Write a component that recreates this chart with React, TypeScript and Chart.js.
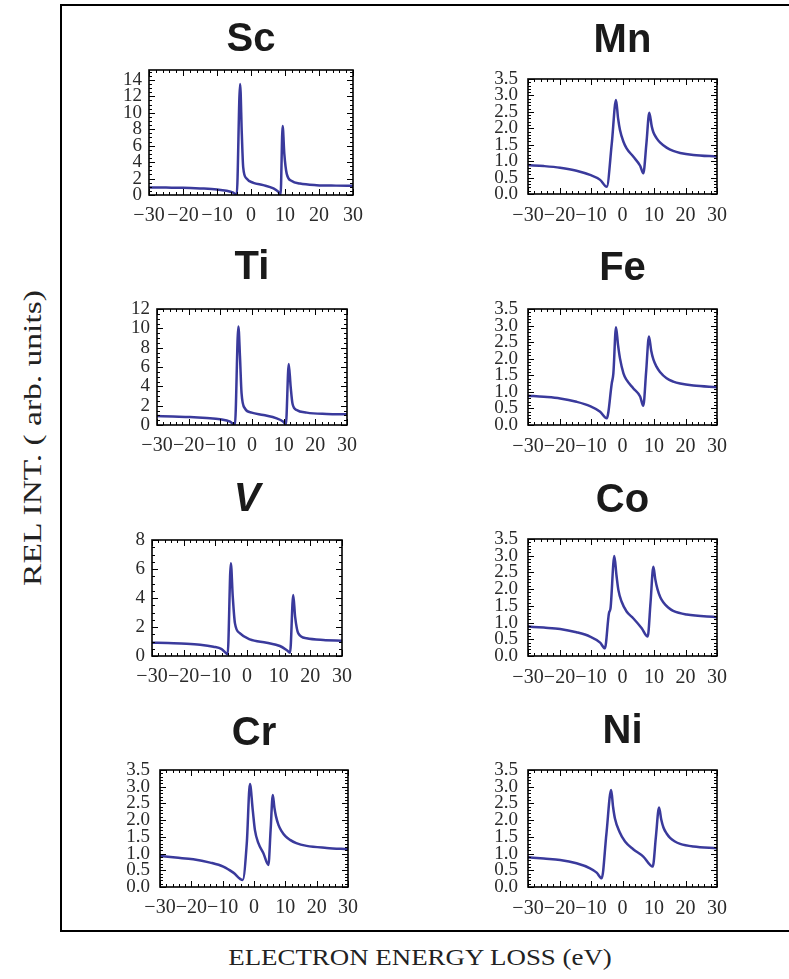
import React, { useEffect, useRef } from 'react';
import { Chart, registerables } from 'chart.js';

Chart.register(...registerables);

// ---------- data ----------
const xTickValues = [-30, -20, -10, 0, 10, 20, 30];
const yTicksSc = [0, 2, 4, 6, 8, 10, 12, 14];
const yTicksTi = [0, 2, 4, 6, 8, 10, 12];
const yTicksV = [0, 2, 4, 6, 8];
const yTicksDec = [0, 0.5, 1, 1.5, 2, 2.5, 3, 3.5];

const scX = [-30, -25, -20, -15, -10, -7.2, -5.2, -4.2, -3.2, -2.7, -2.3, -1.3, 0.7, 3.6, 6.6, 8.0, 8.7, 9.3, 9.8, 10.5, 12.0, 14.4, 19.3, 25, 30];
const scY = [0.92, 0.9, 0.88, 0.8, 0.68, 0.52, 0.28, 0.03, 13.5, 7.4, 3.4, 2.0, 1.48, 1.2, 0.8, 0.4, 0.03, 8.4, 5.0, 2.6, 1.7, 1.4, 1.2, 1.14, 1.12];

const tiX = [-30, -25, -19.6, -14.3, -10.1, -6.9, -5.4, -4.3, -3.8, -3.3, -2.2, -0.1, 3.6, 7.8, 9.9, 10.7, 11.6, 12.2, 12.8, 14.1, 17.3, 23.6, 30];
const tiY = [0.93, 0.88, 0.83, 0.72, 0.59, 0.34, 0.0, 10.2, 7.1, 3.3, 1.7, 1.28, 1.03, 0.69, 0.34, 0.07, 6.3, 4.0, 2.2, 1.55, 1.28, 1.14, 1.1];

const vX = [-30, -25, -19.1, -14.8, -10.6, -8.0, -6.1, -5.1, -4.5, -3.8, -2.2, 0.9, 6.2, 10.4, 12.5, 13.6, 14.6, 15.2, 16.2, 18.8, 24.1, 30];
const vY = [0.92, 0.89, 0.85, 0.78, 0.64, 0.48, 0.14, 6.4, 4.1, 2.25, 1.56, 1.15, 0.92, 0.69, 0.41, 0.23, 4.2, 2.7, 1.56, 1.22, 1.1, 1.06];

const crX = [-30, -25, -19.4, -14.0, -9.8, -6.6, -3.6, -2.3, -1.3, -0.4, 0.3, 1.4, 3.0, 4.6, 5.3, 6.0, 6.5, 7.0, 7.8, 8.8, 10.0, 11.5, 13.5, 16.8, 23.2, 30];
const crY = [0.93, 0.88, 0.83, 0.73, 0.61, 0.43, 0.21, 1.31, 3.08, 2.3, 1.7, 1.31, 1.01, 0.66, 1.7, 2.75, 2.38, 2.12, 1.86, 1.67, 1.52, 1.41, 1.31, 1.23, 1.17, 1.13];

const mnX = [-30, -25, -19.8, -14.6, -10.3, -7.1, -5.0, -3.4, -2.06, -1.4, -0.8, 0.3, 1.3, 3.4, 5.6, 6.6, 7.6, 8.5, 9.3, 9.8, 10.8, 11.9, 14.0, 16.1, 18.3, 22.5, 30];
const mnY = [0.88, 0.85, 0.8, 0.71, 0.58, 0.43, 0.22, 1.54, 2.86, 2.3, 1.95, 1.59, 1.39, 1.14, 0.86, 0.63, 1.55, 2.47, 2.05, 1.88, 1.7, 1.57, 1.41, 1.31, 1.25, 1.19, 1.14];

const feX = [-30, -25, -19.8, -14.6, -10.3, -7.1, -5.0, -3.4, -2.9, -2.06, -1.4, -0.8, 0.3, 1.3, 3.4, 5.6, 6.6, 7.5, 8.4, 9.1, 9.8, 10.8, 11.9, 14.0, 16.1, 18.3, 22.5, 30];
const feY = [0.885, 0.85, 0.8, 0.7, 0.57, 0.4, 0.2, 1.26, 1.56, 2.95, 2.4, 2.01, 1.56, 1.36, 1.11, 0.86, 0.58, 1.6, 2.67, 2.25, 1.98, 1.76, 1.6, 1.41, 1.31, 1.25, 1.19, 1.14];

const coX = [-30, -25, -19.8, -14.6, -10.3, -7.1, -5.6, -4.3, -3.8, -2.6, -1.9, -1.3, -0.3, 1.3, 3.4, 6.1, 8.0, 8.9, 9.8, 10.4, 11.1, 12.0, 13.0, 14.5, 16.1, 20.4, 30];
const coY = [0.88, 0.85, 0.81, 0.71, 0.58, 0.4, 0.23, 1.28, 1.43, 2.99, 2.4, 1.97, 1.63, 1.33, 1.13, 0.83, 0.58, 1.6, 2.67, 2.3, 2.0, 1.76, 1.6, 1.45, 1.35, 1.24, 1.16];

const niX = [-30, -25, -19.8, -14.6, -10.3, -8.2, -6.6, -5.1, -3.6, -3.0, -2.4, -1.0, 0.8, 3.4, 6.6, 9.6, 10.6, 11.6, 12.3, 13.0, 14.0, 15.1, 16.5, 18.3, 22.5, 30];
const niY = [0.89, 0.85, 0.81, 0.71, 0.56, 0.43, 0.26, 1.6, 2.9, 2.4, 2.05, 1.66, 1.36, 1.13, 0.91, 0.61, 1.5, 2.38, 2.02, 1.78, 1.6, 1.47, 1.37, 1.29, 1.21, 1.16];

// ---------- panel table (data refs + layout) ----------
type Panel = {
  name: string; italic?: boolean; xs: number[]; ys: number[];
  yMax: number; yTicks: number[]; yMinor: number; dec: boolean;
  plot: [number, number, number, number]; // left, top, right, bottom (page px)
  titleCY: number; xPad: number; yPad: number;
};

const panels: Panel[] = [
  { name: 'Sc', xs: scX, ys: scY, yMax: 15.2, yTicks: yTicksSc, yMinor: 0.5, dec: false, plot: [149, 70, 353, 195], titleCY: 40, xPad: 9, yPad: 7 },
  { name: 'Ti', xs: tiX, ys: tiY, yMax: 12, yTicks: yTicksTi, yMinor: 0.5, dec: false, plot: [157, 309, 347, 425], titleCY: 268, xPad: 9, yPad: 7 },
  { name: 'V', italic: true, xs: vX, ys: vY, yMax: 8, yTicks: yTicksV, yMinor: 0.5, dec: false, plot: [152, 540, 342, 656], titleCY: 500, xPad: 9, yPad: 7 },
  { name: 'Cr', xs: crX, ys: crY, yMax: 3.5, yTicks: yTicksDec, yMinor: 0.1, dec: true, plot: [160, 770, 348, 887], titleCY: 734, xPad: 9, yPad: 10 },
  { name: 'Mn', xs: mnX, ys: mnY, yMax: 3.5, yTicks: yTicksDec, yMinor: 0.1, dec: true, plot: [528, 79, 717, 194], titleCY: 41, xPad: 10, yPad: 10 },
  { name: 'Fe', xs: feX, ys: feY, yMax: 3.5, yTicks: yTicksDec, yMinor: 0.1, dec: true, plot: [528, 309, 717, 425], titleCY: 269, xPad: 10, yPad: 10 },
  { name: 'Co', xs: coX, ys: coY, yMax: 3.5, yTicks: yTicksDec, yMinor: 0.1, dec: true, plot: [528, 539, 717, 656], titleCY: 501, xPad: 10, yPad: 10 },
  { name: 'Ni', xs: niX, ys: niY, yMax: 3.5, yTicks: yTicksDec, yMinor: 0.1, dec: true, plot: [528, 770, 717, 887], titleCY: 732, xPad: 10, yPad: 10 },
];

const Y_AXIS_W = 50;
const X_AXIS_H = 40;
const PAD_R = 20;
const TITLE_SIZE = 40;
const TITLE_LH = TITLE_SIZE * 1.2;
const SERIF = "'Liberation Serif', 'Times New Roman', serif";
const SANS = "'Liberation Sans', Arial, sans-serif";
const LINE_COLOR = '#3a3a9c';
const TICK_TEXT = '#2a2a2a';

const fmtX = (v: number) => (v < 0 ? '\u2212' + Math.abs(v) : String(v));

// frame with inward major / minor ticks on all four sides
const frameTicks = {
  id: 'frameTicks',
  afterDatasetsDraw(chart: any, _args: any, opts: any) {
    const { ctx, chartArea: a, scales } = chart;
    const x = scales.x, y = scales.y;
    ctx.save();
    ctx.strokeStyle = '#000';
    ctx.lineWidth = 1;
    const seg = (x1: number, y1: number, x2: number, y2: number) => {
      ctx.beginPath(); ctx.moveTo(x1, y1); ctx.lineTo(x2, y2); ctx.stroke();
    };
    const doAxis = (scale: any, min: number, max: number, step: number, len: number, horiz: boolean) => {
      const n = Math.round((max - min) / step);
      for (let i = 0; i <= n; i++) {
        const v = min + i * step;
        if (v > max + 1e-9) break;
        const p = Math.round(scale.getPixelForValue(v)) + 0.5;
        if (horiz) {
          seg(p, a.bottom, p, a.bottom - len);
          seg(p, a.top, p, a.top + len);
        } else {
          seg(a.left, p, a.left + len, p);
          seg(a.right, p, a.right - len, p);
        }
      }
    };
    doAxis(x, -30, 30, 2, 3, true);
    doAxis(x, -30, 30, 10, 6, true);
    doAxis(y, 0, opts.yMax, opts.yMinor, 3, false);
    const majStep = opts.yTicks[1] - opts.yTicks[0];
    doAxis(y, 0, opts.yMax, majStep, 6, false);
    ctx.lineWidth = 1.6;
    ctx.strokeRect(a.left, a.top, a.right - a.left, a.bottom - a.top);
    ctx.restore();
  },
};

function PanelChart({ p }: { p: Panel }) {
  const ref = useRef<HTMLCanvasElement | null>(null);
  const [pl, pt, pr, pb] = p.plot;
  const left = pl - Y_AXIS_W;
  const top = Math.round(p.titleCY - TITLE_LH / 2);
  const width = pr - pl + Y_AXIS_W + PAD_R;
  const height = pb - top + X_AXIS_H;
  const titleGap = pt - top - TITLE_LH;

  useEffect(() => {
    if (!ref.current) return;
    const chart = new Chart(ref.current, {
      type: 'line',
      data: {
        datasets: [
          {
            data: p.xs.map((x, i) => ({ x, y: p.ys[i] })),
            borderColor: LINE_COLOR,
            borderWidth: 2.5,
            pointRadius: 0,
            cubicInterpolationMode: 'monotone',
            fill: false,
          },
        ],
      },
      options: {
        responsive: false,
        animation: false,
        events: [],
        layout: { padding: { left: 0, right: PAD_R, top: 0, bottom: 0 } },
        plugins: {
          legend: { display: false },
          tooltip: { enabled: false },
          title: {
            display: true,
            text: p.name,
            fullSize: false,
            color: '#1a1a1a',
            font: { family: SANS, size: TITLE_SIZE, weight: 'bold', style: p.italic ? 'italic' : 'normal', lineHeight: 1.2 },
            padding: { top: 0, bottom: titleGap },
          },
          frameTicks: { yMax: p.yMax, yMinor: p.yMinor, yTicks: p.yTicks },
        } as any,
        scales: {
          x: {
            type: 'linear',
            min: -30,
            max: 30,
            grid: { display: false, drawTicks: false },
            border: { display: false },
            afterBuildTicks: (s: any) => { s.ticks = xTickValues.map((v) => ({ value: v })); },
            afterFit: (s: any) => { s.height = X_AXIS_H; },
            ticks: {
              autoSkip: false,
              maxRotation: 0,
              minRotation: 0,
              padding: p.xPad,
              color: TICK_TEXT,
              font: { family: SERIF, size: 20 },
              callback: (v: any) => fmtX(Number(v)),
            },
          },
          y: {
            type: 'linear',
            min: 0,
            max: p.yMax,
            grid: { display: false, drawTicks: false },
            border: { display: false },
            afterBuildTicks: (s: any) => { s.ticks = p.yTicks.map((v) => ({ value: v })); },
            afterFit: (s: any) => { s.width = Y_AXIS_W; },
            ticks: {
              autoSkip: false,
              padding: p.yPad,
              color: TICK_TEXT,
              font: { family: SERIF, size: 19 },
              callback: (v: any) => (p.dec ? Number(v).toFixed(1) : String(v)),
            },
          },
        },
      },
      plugins: [frameTicks],
    } as any);
    return () => chart.destroy();
  }, [p]);

  return (
    <canvas
      ref={ref}
      width={width}
      height={height}
      style={{ position: 'absolute', left, top, width, height }}
    />
  );
}

export default function App() {
  return (
    <div style={{ position: 'absolute', left: 0, top: 0, width: 789, height: 979, overflow: 'hidden', background: '#fff' }}>
      <div
        style={{
          position: 'absolute', left: 60, top: 4, width: 760, height: 928,
          border: '2px solid #000', boxSizing: 'border-box',
        }}
      />
      {panels.map((p) => (
        <PanelChart key={p.name} p={p} />
      ))}
      <div
        style={{
          position: 'absolute', left: 32, top: 438, whiteSpace: 'nowrap',
          fontFamily: SERIF, fontSize: 25, lineHeight: 1, color: '#222',
          transform: 'translate(-50%, -50%) rotate(-90deg) scaleX(1.34)',
        }}
      >
        REL INT. ( arb. units)
      </div>
      <div
        style={{
          position: 'absolute', left: 420, top: 957, whiteSpace: 'nowrap',
          fontFamily: SERIF, fontSize: 24, lineHeight: 1, color: '#222',
          transform: 'translate(-50%, -50%) scaleX(1.12)',
        }}
      >
        ELECTRON ENERGY LOSS (eV)
      </div>
    </div>
  );
}
